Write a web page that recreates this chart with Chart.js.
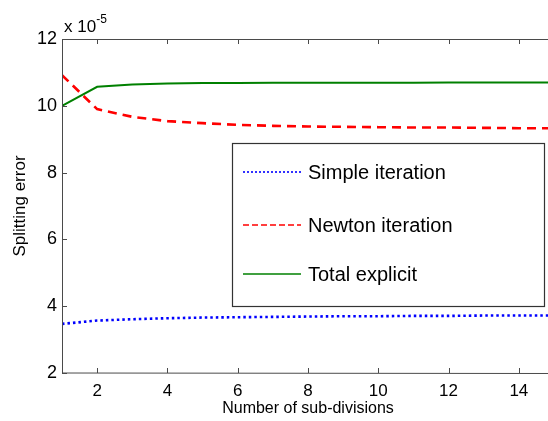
<!DOCTYPE html>
<html>
<head>
<meta charset="utf-8">
<script src="https://cdn.jsdelivr.net/npm/chart.js@4/dist/chart.umd.min.js"></script>
<style>
  html, body { margin: 0; padding: 0; background: #fff; overflow: hidden; }
  #wrap { position: relative; width: 556px; height: 421px; }
</style>
</head>
<body>
<div id="wrap"><canvas id="c"></canvas></div>
<script>
// Splitting error vs number of sub-divisions (valores em unidades de 1e-5)
const subDivisions = [1, 2, 3, 4, 5, 6, 7, 8, 9, 10, 11, 12, 13, 14, 15];
const simpleIteration = [3.47, 3.57, 3.61, 3.64, 3.66, 3.67, 3.68, 3.69, 3.70, 3.70, 3.71, 3.71, 3.72, 3.72, 3.72];
const newtonIteration = [10.92, 9.90, 9.67, 9.54, 9.48, 9.43, 9.40, 9.38, 9.37, 9.36, 9.35, 9.35, 9.34, 9.33, 9.33];
const totalExplicit = [10.0, 10.57, 10.64, 10.67, 10.68, 10.68, 10.69, 10.69, 10.69, 10.69, 10.69, 10.70, 10.70, 10.70, 10.70];
const xTicks = [2, 4, 6, 8, 10, 12, 14];
const yTicks = [2, 4, 6, 8, 10, 12];

const FONT = "'Liberation Sans', Arial, sans-serif";
const AXIS_COLOR = "#4a4a4a";

const pts = (ys) => subDivisions.map((x, i) => ({ x, y: ys[i] }));

// caixa estilo MATLAB: borda, ticks para dentro, expoente e legenda
const matlabBoxPlugin = {
  id: "matlabBox",
  afterDatasetsDraw(chart, args, opts) {
    const { ctx, chartArea: a, scales } = chart;
    ctx.save();
    ctx.strokeStyle = AXIS_COLOR;
    ctx.lineWidth = 1;
    ctx.beginPath();
    ctx.moveTo(a.left + 0.5, a.top + 0.5);
    ctx.lineTo(a.right, a.top + 0.5);
    ctx.moveTo(a.left + 0.5, a.top);
    ctx.lineTo(a.left + 0.5, a.bottom);
    ctx.lineTo(a.right, a.bottom + 0.5);
    ctx.moveTo(a.right - 0.5, a.top);
    ctx.lineTo(a.right - 0.5, a.bottom);
    const tl = 5;
    xTicks.forEach((v) => {
      const px = Math.round(scales.x.getPixelForValue(v)) + 0.5;
      ctx.moveTo(px, a.bottom);
      ctx.lineTo(px, a.bottom - tl);
      ctx.moveTo(px, a.top);
      ctx.lineTo(px, a.top + tl);
    });
    yTicks.forEach((v) => {
      const py = Math.round(scales.y.getPixelForValue(v)) + 0.5;
      ctx.moveTo(a.left, py);
      ctx.lineTo(a.left + tl, py);
      ctx.moveTo(a.right, py);
      ctx.lineTo(a.right - tl, py);
    });
    ctx.stroke();

    // multiplicador "x 10^-5"
    ctx.fillStyle = "#000";
    ctx.textBaseline = "alphabetic";
    ctx.textAlign = "left";
    ctx.font = "17px " + FONT;
    ctx.fillText("x 10", a.left + 2, a.top - 7);
    const w = ctx.measureText("x 10").width;
    ctx.font = "12px " + FONT;
    ctx.fillText("-5", a.left + 2 + w, a.top - 16);

    // legenda
    const L = opts.box;
    ctx.fillStyle = "#fff";
    ctx.fillRect(L.x, L.y, L.w, L.h);
    ctx.strokeStyle = "#333";
    ctx.lineWidth = 1.2;
    ctx.strokeRect(L.x + 0.5, L.y + 0.5, L.w, L.h);
    chart.data.datasets.forEach((ds, i) => {
      const y = L.rows[i];
      ctx.strokeStyle = ds.borderColor;
      ctx.lineWidth = ds.legendWidth;
      ctx.setLineDash(ds.legendDash);
      ctx.beginPath();
      ctx.moveTo(L.x + 11, y);
      ctx.lineTo(L.x + 69, y);
      ctx.stroke();
      ctx.setLineDash([]);
      ctx.fillStyle = "#000";
      ctx.font = "20px " + FONT;
      ctx.textBaseline = "middle";
      ctx.fillText(ds.label, L.x + 76, y + 1);
    });
    ctx.restore();
  },
};

new Chart(document.getElementById("c"), {
  type: "line",
  data: {
    datasets: [
      {
        label: "Simple iteration",
        data: pts(simpleIteration),
        borderColor: "#0000ff",
        borderWidth: 2.6,
        borderDash: [2.5, 3],
        legendWidth: 1.6,
        legendDash: [2, 2],
      },
      {
        label: "Newton iteration",
        data: pts(newtonIteration),
        borderColor: "#ff0000",
        borderWidth: 2.6,
        borderDash: [9, 6],
        legendWidth: 1.3,
        legendDash: [6, 3],
      },
      {
        label: "Total explicit",
        data: pts(totalExplicit),
        borderColor: "#008000",
        borderWidth: 2,
        borderDash: [],
        legendWidth: 1.6,
        legendDash: [],
      },
    ],
  },
  plugins: [matlabBoxPlugin],
  options: {
    responsive: true,
    maintainAspectRatio: false,
    animation: false,
    layout: { padding: { top: 39, right: 2, bottom: 0, left: 0 } },
    elements: { point: { radius: 0 }, line: { tension: 0, fill: false } },
    plugins: {
      legend: { display: false },
      tooltip: { enabled: false },
      matlabBox: { box: { x: 232, y: 143, w: 312, h: 163, rows: [172, 225, 274] } },
    },
    scales: {
      x: {
        type: "linear",
        min: 1,
        max: 15,
        grid: { display: false, drawTicks: false },
        border: { display: false },
        afterBuildTicks: (s) => { s.ticks = xTicks.map((v) => ({ value: v })); },
        afterFit: (s) => { s.height = 48; },
        ticks: { color: "#000", font: { family: FONT, size: 17 }, padding: 8, maxRotation: 0 },
        title: { display: true, text: "Number of sub-divisions", color: "#000", font: { family: FONT, size: 16 }, padding: { top: 0, bottom: 3 } },
      },
      y: {
        min: 2,
        max: 12,
        grid: { display: false, drawTicks: false },
        border: { display: false },
        afterBuildTicks: (s) => { s.ticks = yTicks.map((v) => ({ value: v })); },
        afterFit: (s) => { s.width = 62; },
        ticks: { color: "#000", font: { family: FONT, size: 18 }, padding: 5 },
        title: { display: true, text: "Splitting error", color: "#000", font: { family: FONT, size: 17 }, padding: { top: 10, bottom: 0 } },
      },
    },
  },
});
</script>
</body>
</html>
